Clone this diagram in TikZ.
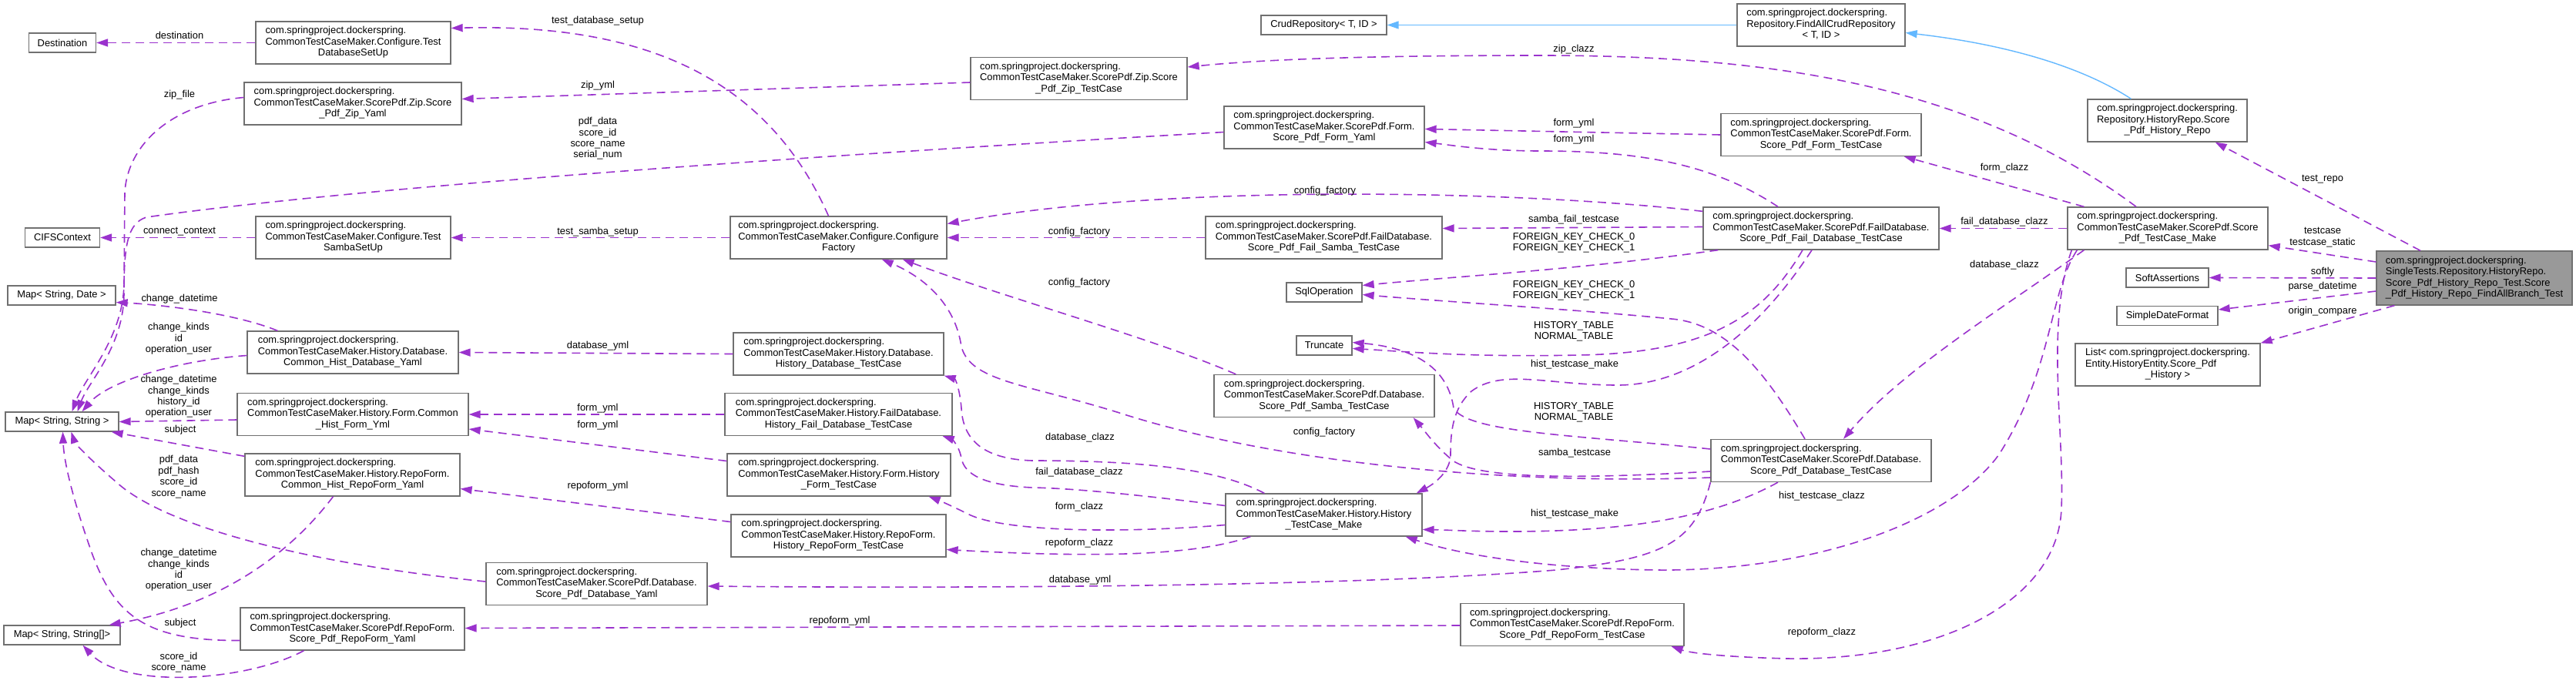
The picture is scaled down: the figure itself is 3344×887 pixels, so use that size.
\documentclass[tikz,border=0pt]{standalone}
\usepackage{fontspec}
\setmainfont{Liberation Sans}
\usetikzlibrary{arrows.meta,calc}
\definecolor{edgep}{HTML}{9A32CD}
\definecolor{inhc}{HTML}{63B8FF}
\definecolor{bord}{HTML}{707070}
\definecolor{rootfill}{HTML}{999999}
\newcommand\csp{com.springproject.dockerspring.}
\newcommand\ml[2]{\begin{tabular}{@{}l@{}}#1\\\multicolumn{1}{@{}c@{}}{#2}\end{tabular}}
\begin{document}
\begin{tikzpicture}[x=1pt,y=-1pt,
  cls/.style={draw=bord, line width=1.3pt, fill=white, inner sep=0pt, minimum height=55pt, font=\fontsize{12.9}{14.4}\selectfont},
  one/.style={cls, minimum height=25pt},
  lab/.style={inner sep=0pt, align=center, font=\fontsize{12.9}{14.4}\selectfont},
  dep/.style={draw=edgep, line width=1.6pt, dash pattern=on 11pt off 7pt, -{Triangle[length=15pt,width=10pt]}},
  inhe/.style={draw=inhc, line width=1.4pt, -{Triangle[length=15pt,width=10pt]}}]
\useasboundingbox (0,0) rectangle (3344,887);
\fill[white] (0,0) rectangle (3344,887);

% rank 0
\node[one, minimum width=87pt] (dest) at (81,55.5) {Destination};
\node[one, minimum width=97pt] (cifs) at (81,308.5) {CIFSContext};
\node[one, minimum width=140pt] (mapsd) at (80,383.5) {Map< String, Date >};
\node[one, minimum width=147pt] (mapss) at (80.5,547.5) {Map< String, String >};
\node[one, minimum width=151pt] (mapssa) at (80.5,824.5) {Map< String, String[]>};
% rank 1
\node[cls, minimum width=253pt] (tds) at (458.5,55.5) {\ml{\csp\\CommonTestCaseMaker.Configure.Test}{DatabaseSetUp}};
\node[cls, minimum width=282pt] (zipy) at (458,134.5) {\ml{\csp\\CommonTestCaseMaker.ScorePdf.Zip.Score}{\_Pdf\_Zip\_Yaml}};
\node[cls, minimum width=253pt] (tss) at (458.5,308.5) {\ml{\csp\\CommonTestCaseMaker.Configure.Test}{SambaSetUp}};
\node[cls, minimum width=274pt] (chdy) at (458,457.5) {\ml{\csp\\CommonTestCaseMaker.History.Database.}{Common\_Hist\_Database\_Yaml}};
\node[cls, minimum width=300pt] (chfy) at (458,538) {\ml{\csp\\CommonTestCaseMaker.History.Form.Common}{\_Hist\_Form\_Yml}};
\node[cls, minimum width=279pt] (chry) at (457.5,616.5) {\ml{\csp\\CommonTestCaseMaker.History.RepoForm.}{Common\_Hist\_RepoForm\_Yaml}};
\node[cls, minimum width=291pt] (spry) at (457.5,816.5) {\ml{\csp\\CommonTestCaseMaker.ScorePdf.RepoForm.}{Score\_Pdf\_RepoForm\_Yaml}};
% rank 2
\node[cls, minimum width=281pt] (cf) at (1088.5,308.5) {\ml{\csp\\CommonTestCaseMaker.Configure.Configure}{Factory}};
\node[cls, minimum width=273pt] (hdt) at (1088.5,459.5) {\ml{\csp\\CommonTestCaseMaker.History.Database.}{History\_Database\_TestCase}};
\node[cls, minimum width=295pt] (hfdt) at (1088.5,538) {\ml{\csp\\CommonTestCaseMaker.History.FailDatabase.}{History\_Fail\_Database\_TestCase}};
\node[cls, minimum width=290pt] (hft) at (1089,616.5) {\ml{\csp\\CommonTestCaseMaker.History.Form.History}{\_Form\_TestCase}};
\node[cls, minimum width=279pt] (hrt) at (1088.5,695.5) {\ml{\csp\\CommonTestCaseMaker.History.RepoForm.}{History\_RepoForm\_TestCase}};
\node[cls, minimum width=287pt] (spdy) at (774.5,758) {\ml{\csp\\CommonTestCaseMaker.ScorePdf.Database.}{Score\_Pdf\_Database\_Yaml}};
% rank 3
\node[cls, minimum width=281pt] (zipt) at (1400.5,102) {\ml{\csp\\CommonTestCaseMaker.ScorePdf.Zip.Score}{\_Pdf\_Zip\_TestCase}};
\node[one, minimum width=163pt] (crud) at (1718.5,32.5) {CrudRepository< T, ID >};
\node[cls, minimum width=260pt] (spfy) at (1719,165.5) {\ml{\csp\\CommonTestCaseMaker.ScorePdf.Form.}{Score\_Pdf\_Form\_Yaml}};
\node[cls, minimum width=307pt] (spfst) at (1718.5,308.5) {\ml{\csp\\CommonTestCaseMaker.ScorePdf.FailDatabase.}{Score\_Pdf\_Fail\_Samba\_TestCase}};
\node[one, minimum width=98pt] (sqlop) at (1719,379.5) {SqlOperation};
\node[one, minimum width=72pt] (trunc) at (1719,448.5) {Truncate};
\node[cls, minimum width=286pt] (spst) at (1719,514) {\ml{\csp\\CommonTestCaseMaker.ScorePdf.Database.}{Score\_Pdf\_Samba\_TestCase}};
\node[cls, minimum width=255pt] (htm) at (1718.5,668.5) {\ml{\csp\\CommonTestCaseMaker.History.History}{\_TestCase\_Make}};
\node[cls, minimum width=290pt] (sprt) at (2041,811) {\ml{\csp\\CommonTestCaseMaker.ScorePdf.RepoForm.}{Score\_Pdf\_RepoForm\_TestCase}};
% rank 4
\node[cls, minimum width=218pt] (facr) at (2364,32.5) {\ml{\csp\\Repository.FindAllCrudRepository}{< T, ID >}};
\node[cls, minimum width=260pt] (spft) at (2364,175) {\ml{\csp\\CommonTestCaseMaker.ScorePdf.Form.}{Score\_Pdf\_Form\_TestCase}};
\node[cls, minimum width=306pt] (spfdt) at (2364,296.5) {\ml{\csp\\CommonTestCaseMaker.ScorePdf.FailDatabase.}{Score\_Pdf\_Fail\_Database\_TestCase}};
\node[cls, minimum width=286pt] (spdt) at (2364,598) {\ml{\csp\\CommonTestCaseMaker.ScorePdf.Database.}{Score\_Pdf\_Database\_TestCase}};
% rank 5
\node[cls, minimum width=207pt] (sphr) at (2813.5,156.5) {\ml{\csp\\Repository.HistoryRepo.Score}{\_Pdf\_History\_Repo}};
\node[cls, minimum width=260pt] (stm) at (2814,296.5) {\ml{\csp\\CommonTestCaseMaker.ScorePdf.Score}{\_Pdf\_TestCase\_Make}};
\node[one, minimum width=107pt] (soft) at (2813.5,360.5) {SoftAssertions};
\node[one, minimum width=131pt] (sdf) at (2813.5,410) {SimpleDateFormat};
\node[cls, minimum width=240pt] (list) at (2814,473.5) {\ml{List< \csp\\Entity.HistoryEntity.Score\_Pdf}{\_History >}};
% root
\node[cls, fill=rootfill, minimum width=254pt, minimum height=70pt] (main) at (3212,361) {\ml{\csp\\SingleTests.Repository.HistoryRepo.\\Score\_Pdf\_History\_Repo\_Test.Score}{\_Pdf\_History\_Repo\_FindAllBranch\_Test}};

% ---------- edges ----------
\draw[dep] (tds.west) -- (dest.east);
\draw[dep] ($(zipy.west)+(0,-8)$) .. controls (220,135) and (165,190) .. (162,250) -- (161,370) .. controls (159,440) and (110,490) .. ($(mapss.north)+(13,0)$);
\draw[dep] ($(spfy.west)+(0,6)$) .. controls (1000,205) and (450,245) .. (190,282) .. controls (165,290) and (161,320) .. (161,380) .. controls (161,450) and (115,495) .. ($(mapss.north)+(20,0)$);
\draw[dep] (tss.west) -- (cifs.east);
\draw[dep] ($(chdy.north west)+(40,0)$) .. controls (300,405) and (200,395) .. ($(mapsd.east)+(0,9)$);
\draw[dep] ($(chdy.west)+(0,4)$) .. controls (230,468) and (140,495) .. ($(mapss.north)+(26,0)$);
\draw[dep] ($(chfy.west)+(0,7)$) -- (mapss.east);
\draw[dep] ($(chry.north west)+(0,4)$) -- ($(mapss.south east)+(-10,0)$);
\draw[dep] ($(spdy.west)+(0,-3)$) .. controls (430,735) and (220,690) .. (150,625) .. controls (115,595) and (97,575) .. ($(mapss.south)+(12,0)$);
\draw[dep] ($(spry.west)+(0,15)$) .. controls (190,832) and (150,800) .. (120,720) .. controls (95,650) and (83,600) .. ($(mapss.south)+(1,0)$);
\draw[dep] ($(chry.south)+(-25,0)$) .. controls (360,740) and (260,790) .. ($(mapssa.north east)+(-15,0)$);
\draw[dep] ($(spry.south)+(-63,0)$) .. controls (320,885) and (160,895) .. ($(mapssa.south)+(27,0)$);

\draw[dep] ($(cf.north)+(-13,0)$) .. controls (1000,110) and (850,30) .. ($(tds.east)+(0,-19)$);
\draw[dep] (cf.west) -- (tss.east);
\draw[dep] ($(zipt.west)+(0,5)$) -- ($(zipy.east)+(0,-6)$);
\draw[dep] (hdt.west) -- (chdy.east);
\draw[dep] (hfdt.west) -- (chfy.east);
\draw[dep] ($(hft.west)+(0,-18)$) -- ($(chfy.east)+(0,19)$);
\draw[dep] ($(hrt.west)+(0,-18)$) -- ($(chry.east)+(0,18)$);
\draw[dep] ($(sprt.west)+(0,1)$) -- ($(spry.east)+(0,-1)$);

\draw[dep] ($(stm.north)+(-41,0)$) .. controls (2560,110) and (2300,72) .. (2000,72) .. controls (1800,72) and (1650,76) .. ($(zipt.east)+(0,-15)$);
\draw[inhe] (facr.west) -- (crud.east);
\draw[inhe] ($(sphr.north)+(-47,0)$) .. controls (2700,85) and (2600,57) .. ($(facr.east)+(0,10)$);
\draw[dep] (spft.west) -- ($(spfy.east)+(0,2)$);
\draw[dep] ($(spfdt.north)+(-56,0)$) .. controls (2220,210) and (2120,196) .. (2000,196) .. controls (1930,196) and (1880,188) .. ($(spfy.east)+(0,19)$);
\draw[dep] ($(spfdt.west)+(0,-2)$) -- ($(spfst.east)+(0,-12)$);
\draw[dep] ($(spfdt.north west)+(0,6)$) .. controls (1950,245) and (1500,240) .. ($(cf.east)+(0,-18)$);
\draw[dep] (spfst.west) -- (cf.east);
\draw[dep] ($(spfdt.south west)+(20,0)$) .. controls (2050,350) and (1900,358) .. ($(sqlop.east)+(0,-9)$);
\draw[dep] ($(spdt.north)+(-21,0)$) .. controls (2290,480) and (2240,420) .. (2170,414) .. controls (2050,402) and (1880,392) .. ($(sqlop.east)+(0,3)$);
\draw[dep] ($(spfdt.south)+(-24,0)$) .. controls (2290,410) and (2220,458) .. (2050,461) .. controls (1900,464) and (1820,456) .. ($(trunc.east)+(0,4)$);
\draw[dep] ($(spfdt.south)+(-12,0)$) .. controls (2270,450) and (2180,500) .. (2100,500) .. controls (2010,500) and (1950,478) .. (1910,508) .. controls (1886,530) and (1883,560) .. (1883,590) .. controls (1883,612) and (1862,628) .. ($(htm.north east)+(-8,0)$);
\draw[dep] ($(spdt.west)+(0,-15)$) .. controls (2050,565) and (1905,562) .. (1887,530) .. controls (1880,480) and (1840,452) .. ($(trunc.east)+(0,-4)$);
\draw[dep] ($(spdt.west)+(0,14)$) .. controls (2050,622) and (1920,622) .. (1886,598) .. controls (1862,578) and (1850,560) .. ($(spst.south east)+(-28,0)$);
\draw[dep] ($(spdt.west)+(0,22)$) .. controls (1950,630) and (1650,600) .. (1450,535) .. controls (1330,498) and (1260,495) .. (1248,450) .. controls (1240,395) and (1200,360) .. ($(cf.south east)+(-85,0)$);
\draw[dep] ($(spst.north west)+(29,0)$) .. controls (1500,440) and (1300,385) .. ($(cf.south east)+(-58,0)$);
\draw[dep] ($(spdt.south)+(-56,0)$) .. controls (2220,675) and (2100,690) .. (1960,690) .. controls (1910,690) and (1880,688) .. ($(htm.east)+(0,19)$);
\draw[dep] (spdt.south west) .. controls (2200,705) and (2160,725) .. (2020,740) .. controls (1750,762) and (1250,764) .. ($(spdy.east)+(0,3)$);

\draw[dep] ($(stm.south west)+(13,0)$) .. controls (2660,380) and (2665,480) .. (2595,590) .. controls (2530,680) and (2350,742) .. (2150,740) .. controls (2010,738) and (1900,722) .. ($(htm.south east)+(-22,0)$);
\draw[dep] ($(stm.south west)+(22,0)$) .. controls (2600,400) and (2470,480) .. ($(spdt.north)+(29,0)$);
\draw[dep] ($(stm.south west)+(6,0)$) .. controls (2655,420) and (2680,560) .. (2676,660) .. controls (2672,780) and (2520,858) .. (2320,855) .. controls (2240,853) and (2195,848) .. ($(sprt.south east)+(-17,0)$);
\draw[dep] (stm.west) -- (spfdt.east);
\draw[dep] ($(stm.north west)+(22,0)$) -- ($(spft.south east)+(-23,0)$);

\draw[dep] ($(htm.north west)+(51,0)$) .. controls (1580,608) and (1480,598) .. (1340,598) .. controls (1275,596) and (1250,570) .. (1248,530) .. controls (1246,505) and (1240,492) .. (hdt.south east);
\draw[dep] ($(htm.west)+(0,-12)$) .. controls (1500,645) and (1400,634) .. (1340,633) .. controls (1275,630) and (1252,615) .. (1248,595) .. controls (1245,578) and (1235,570) .. ($(hfdt.south east)+(-13,0)$);
\draw[dep] ($(htm.west)+(0,13)$) .. controls (1450,693) and (1300,690) .. (1256,667) .. controls (1238,658) and (1220,650) .. ($(hft.south east)+(-29,0)$);
\draw[dep] ($(htm.south west)+(33,0)$) .. controls (1550,722) and (1420,724) .. ($(hrt.east)+(0,18)$);

\draw[dep] ($(main.north)+(-70,0)$) -- ($(sphr.south east)+(-42,0)$);
\draw[dep] ($(main.west)+(0,-21)$) -- ($(stm.south east)+(0,-6)$);
\draw[dep] (main.west) -- (soft.east);
\draw[dep] ($(main.west)+(0,17)$) -- ($(sdf.east)+(0,-8)$);
\draw[dep] ($(main.south west)+(24,0)$) -- (list.north east);

% ---------- labels ----------
\node[lab] (t1) at (233,46) {destination};
\node[lab] (t2) at (233,123) {zip\_file};
\node[lab] (t3) at (776,180) {pdf\_data\\score\_id\\score\_name\\serial\_num};
\node[lab] (t4) at (233,301) {connect\_context};
\node[lab] (t5) at (233,388) {change\_datetime};
\node[lab] (t6) at (232,440) {change\_kinds\\id\\operation\_user};
\node[lab] (t7) at (232,515) {change\_datetime\\change\_kinds\\history\_id\\operation\_user};
\node[lab] (t8) at (234,558) {subject};
\node[lab] (t9) at (232,619) {pdf\_data\\pdf\_hash\\score\_id\\score\_name};
\node[lab] (t10) at (232,740) {change\_datetime\\change\_kinds\\id\\operation\_user};
\node[lab] (t11) at (234,809) {subject};
\node[lab] (t12) at (232,860) {score\_id\\score\_name};
\node[lab] (t13) at (776,27) {test\_database\_setup};
\node[lab] (t14) at (776,301) {test\_samba\_setup};
\node[lab] (t15) at (776,111) {zip\_yml};
\node[lab] (t16) at (776,449) {database\_yml};
\node[lab] (t17) at (776,530) {form\_yml};
\node[lab] (t18) at (776,552) {form\_yml};
\node[lab] (t19) at (776,631) {repoform\_yml};
\node[lab] (t20) at (1090,806) {repoform\_yml};
\node[lab] (t21) at (2043,64) {zip\_clazz};
\node[lab] (t22) at (2043,160) {form\_yml};
\node[lab] (t23) at (2043,181) {form\_yml};
\node[lab] (t24) at (1720,248) {config\_factory};
\node[lab] (t25) at (2043,285) {samba\_fail\_testcase};
\node[lab] (t26) at (1401,301) {config\_factory};
\node[lab] (t27) at (2043,315) {FOREIGN\_KEY\_CHECK\_0\\FOREIGN\_KEY\_CHECK\_1};
\node[lab] (t28) at (1401,367) {config\_factory};
\node[lab] (t29) at (2043,377) {FOREIGN\_KEY\_CHECK\_0\\FOREIGN\_KEY\_CHECK\_1};
\node[lab] (t30) at (2043,430) {HISTORY\_TABLE\\NORMAL\_TABLE};
\node[lab] (t31) at (2044,473) {hist\_testcase\_make};
\node[lab] (t32) at (2043,535) {HISTORY\_TABLE\\NORMAL\_TABLE};
\node[lab] (t33) at (1719,561) {config\_factory};
\node[lab] (t34) at (2044,588) {samba\_testcase};
\node[lab] (t35) at (2044,667) {hist\_testcase\_make};
\node[lab] (t36) at (1402,568) {database\_clazz};
\node[lab] (t37) at (1401,613) {fail\_database\_clazz};
\node[lab] (t38) at (1401,658) {form\_clazz};
\node[lab] (t39) at (1401,705) {repoform\_clazz};
\node[lab] (t40) at (1402,753) {database\_yml};
\node[lab] (t41) at (2602,218) {form\_clazz};
\node[lab] (t42) at (2602,288) {fail\_database\_clazz};
\node[lab] (t43) at (2602,344) {database\_clazz};
\node[lab] (t44) at (2365,644) {hist\_testcase\_clazz};
\node[lab] (t45) at (2365,821) {repoform\_clazz};
\node[lab] (t46) at (3015,233) {test\_repo};
\node[lab] (t47) at (3015,308) {testcase\\testcase\_static};
\node[lab] (t48) at (3015,353) {softly};
\node[lab] (t49) at (3015,372) {parse\_datetime};
\node[lab] (t50) at (3015,404) {origin\_compare};
\end{tikzpicture}
\end{document}
